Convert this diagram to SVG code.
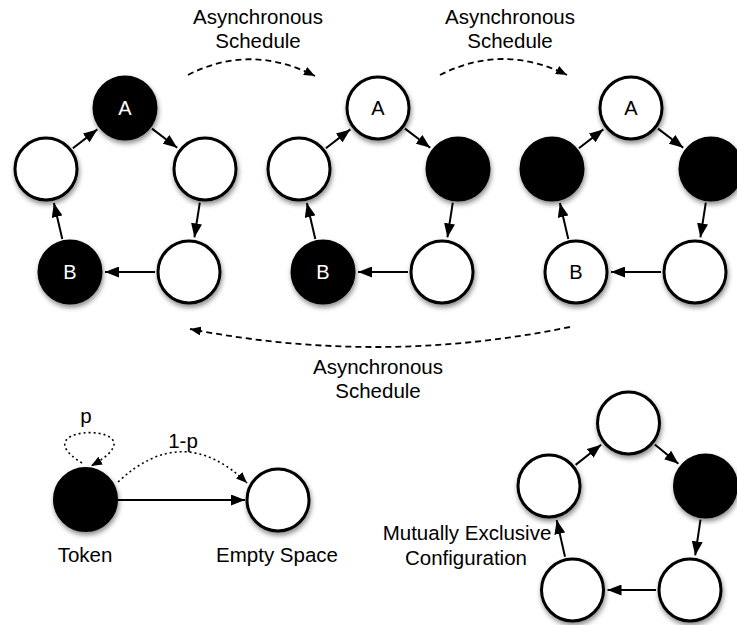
<svg xmlns="http://www.w3.org/2000/svg" width="737" height="625" viewBox="0 0 737 625">
<style>
  text { font-family: "Liberation Sans", Arial, sans-serif; font-size: 20.5px; fill: #000; }
  .lbl { text-anchor: middle; }
  .nl { font-size: 20px; text-anchor: middle; }
  .nl.w { fill: #fff; }
  .node { stroke: #000; stroke-width: 3; filter: url(#sh); }
  .empty { fill: #fff; }
  .tok { fill: #000; }
  .edge { stroke: #000; stroke-width: 2; fill: none; marker-end: url(#ah); }
  .dash { stroke: #000; stroke-width: 1.8; fill: none; stroke-dasharray: 6 4; marker-end: url(#ahd); }
  .dot { stroke: #000; stroke-width: 1.6; fill: none; stroke-dasharray: 2 3; marker-end: url(#ahd); }
</style>
<defs>
  <filter id="sh" x="-30%" y="-30%" width="160%" height="160%">
    <feDropShadow dx="1" dy="3" stdDeviation="2.5" flood-color="#000" flood-opacity="0.45"/>
  </filter>
  <marker id="ah" markerUnits="userSpaceOnUse" markerWidth="14" markerHeight="11" refX="14" refY="5.5" orient="auto">
    <path d="M0,0 L14,5.5 L0,11 z" fill="#000"/>
  </marker>
  <marker id="ahd" markerUnits="userSpaceOnUse" markerWidth="11" markerHeight="9" refX="11" refY="4.5" orient="auto">
    <path d="M0,0 L11,4.5 L0,9 z" fill="#000"/>
  </marker>
</defs>

<g id="connectors">
  <!-- ring 1 -->
  <line class="edge" x1="152.0" y1="128.6" x2="177.2" y2="147.8"/>
  <line class="edge" x1="199.8" y1="202.6" x2="194.4" y2="237.4"/>
  <line class="edge" x1="155" y1="272" x2="105" y2="272"/>
  <line class="edge" x1="62.3" y1="238.9" x2="53.9" y2="203.1"/>
  <line class="edge" x1="72.9" y1="148.2" x2="97.3" y2="129.4"/>
  <!-- ring 2 -->
  <line class="edge" x1="405.0" y1="128.6" x2="430.2" y2="147.8"/>
  <line class="edge" x1="452.8" y1="202.6" x2="447.4" y2="237.4"/>
  <line class="edge" x1="408" y1="272" x2="358" y2="272"/>
  <line class="edge" x1="315.3" y1="238.9" x2="306.9" y2="203.1"/>
  <line class="edge" x1="325.9" y1="148.2" x2="350.3" y2="129.4"/>
  <!-- ring 3 -->
  <line class="edge" x1="658.0" y1="128.6" x2="683.2" y2="147.8"/>
  <line class="edge" x1="705.8" y1="202.6" x2="700.4" y2="237.4"/>
  <line class="edge" x1="661" y1="272" x2="611" y2="272"/>
  <line class="edge" x1="568.3" y1="238.9" x2="559.9" y2="203.1"/>
  <line class="edge" x1="578.9" y1="148.2" x2="603.3" y2="129.4"/>
  <!-- bottom ring -->
  <line class="edge" x1="654.8" y1="444.5" x2="678.4" y2="463.8"/>
  <line class="edge" x1="700.5" y1="519.6" x2="695.2" y2="555.4"/>
  <line class="edge" x1="656" y1="590" x2="607.5" y2="590"/>
  <line class="edge" x1="565.0" y1="556.8" x2="556.7" y2="520.1"/>
  <line class="edge" x1="575.6" y1="464.9" x2="601.1" y2="444.7"/>
  <!-- schedules -->
  <path class="dash" d="M188,75 Q250,43 315,76"/>
  <path class="dash" d="M440,75 Q503,43 567,75"/>
  <path class="dash" d="M570,327 Q380,366 190,329"/>
  <!-- legend -->
  <line class="edge" x1="118" y1="500" x2="245" y2="500"/>
  <path class="dot" d="M118,482 Q183,421 247,483"/>
  <path class="dot" d="M82,463 C15,422 170,422 91,466"/>
</g>

<g id="ring1">
  <g id="r1-a"><circle class="node tok" cx="125" cy="108" r="31"/><text class="nl w" x="125" y="115">A</text></g>
  <g id="r1-r"><circle class="node empty" cx="205" cy="169" r="31"/></g>
  <g id="r1-br"><circle class="node empty" cx="189" cy="272" r="31"/></g>
  <g id="r1-b"><circle class="node tok" cx="70" cy="272" r="31"/><text class="nl w" x="70" y="279">B</text></g>
  <g id="r1-l"><circle class="node empty" cx="46" cy="169" r="31"/></g>
</g>
<g id="ring2">
  <g id="r2-a"><circle class="node empty" cx="378" cy="108" r="31"/><text class="nl" x="378" y="115">A</text></g>
  <g id="r2-r"><circle class="node tok" cx="458" cy="169" r="31"/></g>
  <g id="r2-br"><circle class="node empty" cx="442" cy="272" r="31"/></g>
  <g id="r2-b"><circle class="node tok" cx="323" cy="272" r="31"/><text class="nl w" x="323" y="279">B</text></g>
  <g id="r2-l"><circle class="node empty" cx="299" cy="169" r="31"/></g>
</g>
<g id="ring3">
  <g id="r3-a"><circle class="node empty" cx="631" cy="108" r="31"/><text class="nl" x="631" y="115">A</text></g>
  <g id="r3-r"><circle class="node tok" cx="711" cy="169" r="31"/></g>
  <g id="r3-br"><circle class="node empty" cx="695" cy="272" r="31"/></g>
  <g id="r3-b"><circle class="node empty" cx="576" cy="272" r="31"/><text class="nl" x="576" y="279">B</text></g>
  <g id="r3-l"><circle class="node tok" cx="552" cy="169" r="31"/></g>
</g>
<g id="ring4">
  <g id="r4-t"><circle class="node empty" cx="628.5" cy="423" r="31"/></g>
  <g id="r4-r"><circle class="node tok" cx="705.5" cy="486" r="31"/></g>
  <g id="r4-br"><circle class="node empty" cx="690" cy="590" r="31"/></g>
  <g id="r4-bl"><circle class="node empty" cx="572.5" cy="590" r="31"/></g>
  <g id="r4-l"><circle class="node empty" cx="549" cy="486" r="31"/></g>
</g>
<g id="legend">
  <g id="token"><circle class="node tok" cx="85.5" cy="499.5" r="31"/></g>
  <g id="empty"><circle class="node empty" cx="278" cy="500" r="31"/></g>
</g>

<g id="labels">
  <text class="lbl" x="258" y="24">Asynchronous</text>
  <text class="lbl" x="258" y="48">Schedule</text>
  <text class="lbl" x="510" y="24">Asynchronous</text>
  <text class="lbl" x="510" y="48">Schedule</text>
  <text class="lbl" x="378" y="374">Asynchronous</text>
  <text class="lbl" x="378" y="398">Schedule</text>
  <text class="lbl" x="86" y="423">p</text>
  <text class="lbl" x="183" y="448">1-p</text>
  <text class="lbl" x="85" y="562">Token</text>
  <text class="lbl" x="277" y="562">Empty Space</text>
  <text class="lbl" x="467" y="540">Mutually Exclusive</text>
  <text class="lbl" x="466" y="565">Configuration</text>
</g>
</svg>
